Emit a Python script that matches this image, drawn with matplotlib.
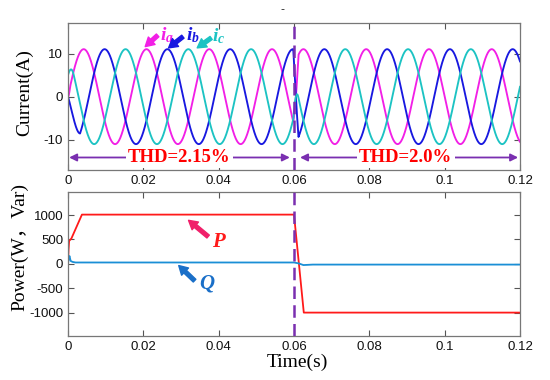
import numpy as np
import matplotlib
matplotlib.use("Agg")
import matplotlib.pyplot as plt
from matplotlib.ticker import FixedLocator, FixedFormatter

plt.rcParams['axes.unicode_minus'] = False
plt.rcParams['mathtext.fontset'] = 'custom'
plt.rcParams['mathtext.it'] = 'Liberation Serif:italic:bold'
plt.rcParams['mathtext.rm'] = 'Liberation Serif:bold'

# ---------------- data ----------------
# three-phase currents (sinusoids): amplitude (A), frequency (Hz), phase (deg)
phase_names = ['a', 'b', 'c']
phase_amp = [11.0, 11.0, 11.0]
phase_freq = 60.0
phase_deg = [0.0, -120.0, 120.0]
# start-up: value at t=0 and time until the wave is settled
start_val = [0.0, 0.0, 5.0]
start_dur = [0.0005, 0.0032, 0.0015]
# power reversal: current sign flips between these times
flip_start = 0.0598
flip_end = 0.0612

# active power P and reactive power Q (breakpoints)
p_time = [0.0, 0.00015, 0.0003, 0.0009, 0.0037, 0.0600, 0.0626, 0.12]
p_val = [0, 300, 470, 520, 1010, 1010, -1000, -1000]
q_time = [0.0, 0.0002, 0.0004, 0.0007, 0.0012, 0.002, 0.060, 0.0612, 0.0625, 0.065, 0.12]
q_val = [0, 120, 160, 60, 40, 28, 28, 10, -25, -15, -15]

x_ticks = [0, 0.02, 0.04, 0.06, 0.08, 0.1, 0.12]
x_tick_labels = ['0', '0.02', '0.04', '0.06', '0.08', '0.1', '0.12']
i_ticks = [-10, 0, 10]
i_tick_labels = ['-10', '0', '10']
p_ticks = [-1000, -500, 0, 500, 1000]
p_tick_labels = ['-1000', '-500', '0', '500', '1000']

thd_labels = ['THD=2.15%', 'THD=2.0%']
event_time = 0.06

# ---------------- styling ----------------
W, H = 550, 380
fig = plt.figure(figsize=(W / 100, H / 100), dpi=100)

def box(x0, y0, x1, y1):
    return [x0 / W, 1 - y1 / H, (x1 - x0) / W, (y1 - y0) / H]

ax1 = fig.add_axes(box(68, 23.3, 520, 170))
ax2 = fig.add_axes(box(68, 191.7, 520, 336))

cur_colors = ['#F21FE6', '#1818E0', '#1CC3C3']
purple = '#7A2FB0'

t = np.linspace(0, 0.12, 4801)
w = 2 * np.pi * phase_freq
blend = np.clip((t - flip_start) / (flip_end - flip_start), 0, 1)
for k in range(3):
    ideal = phase_amp[k] * np.sin(w * t + np.deg2rad(phase_deg[k]))
    s = np.clip(t / start_dur[k], 0, 1)
    y = (1 - s) * start_val[k] + s * ideal
    y = (1 - blend) * y - blend * ideal
    ax1.plot(t, y, color=cur_colors[k], lw=1.35)

ax2.plot(p_time, p_val, color='#FF1A1A', lw=1.3)
ax2.plot(q_time, q_val, color='#1A8FD6', lw=1.3)

ax1.set_ylim(-17, 17)
ax1.yaxis.set_major_locator(FixedLocator(i_ticks))
ax1.yaxis.set_major_formatter(FixedFormatter(i_tick_labels))
ax2.set_ylim(-1480, 1480)
ax2.yaxis.set_major_locator(FixedLocator(p_ticks))
ax2.yaxis.set_major_formatter(FixedFormatter(p_tick_labels))

for ax in (ax1, ax2):
    ax.axvline(event_time, color=purple, lw=1.8, ls=(0, (5, 2.5)), zorder=5)
    ax.set_xlim(0, 0.12)
    ax.xaxis.set_major_locator(FixedLocator(x_ticks))
    ax.xaxis.set_major_formatter(FixedFormatter(x_tick_labels))
    ax.tick_params(direction='in', top=True, right=True, length=4, width=0.8,
                   color='#555555', labelcolor='#111111', pad=3.5)
    for lab in ax.get_xticklabels() + ax.get_yticklabels():
        lab.set_fontfamily('Liberation Sans')
        lab.set_fontsize(9.5)
    for sp in ax.spines.values():
        sp.set_color('#777777')
        sp.set_linewidth(0.9)

# THD arrows and labels
arr = dict(arrowstyle='<|-|>', color=purple, lw=1.3, mutation_scale=11,
           shrinkA=0, shrinkB=0)
ax1.annotate('', xy=(0.0003, -14.1), xytext=(0.0589, -14.1), arrowprops=arr)
ax1.annotate('', xy=(0.0616, -14.1), xytext=(0.1195, -14.1), arrowprops=arr)
thd_font = dict(family='Liberation Serif', weight='bold', size=13.5, color='#FF0000')
ax1.text(0.0296, -14.1, thd_labels[0], ha='center', va='center',
         bbox=dict(facecolor='white', edgecolor='none', pad=1.5), zorder=6, **thd_font)
ax1.text(0.0897, -14.1, thd_labels[1], ha='center', va='center',
         bbox=dict(facecolor='white', edgecolor='none', pad=1.5), zorder=6, **thd_font)

# phase labels with arrows
small_arrow = 'simple,head_width=0.8,head_length=0.7,tail_width=0.3'
lab_pos = [(0.0243, 14.2), (0.0312, 14.2), (0.0383, 14.0)]
arr_tail = [(0.0238, 14.2), (0.0305, 13.9), (0.0380, 13.6)]
arr_tip = [(0.0205, 11.6), (0.0267, 11.3), (0.0343, 11.3)]
for k in range(3):
    ax1.annotate('', xy=arr_tip[k], xytext=arr_tail[k],
                 arrowprops=dict(arrowstyle=small_arrow, color=cur_colors[k],
                                 shrinkA=0, shrinkB=0, mutation_scale=9))
    ax1.text(lab_pos[k][0], lab_pos[k][1], r'$i_{%s}$' % phase_names[k], color=cur_colors[k],
             ha='left', va='center', fontsize=14)

# P and Q labels
ax2.annotate('', xy=(0.0320, 893), xytext=(0.0372, 560),
             arrowprops=dict(arrowstyle=small_arrow, color='#F0206A',
                             shrinkA=0, shrinkB=0, mutation_scale=9))
ax2.text(0.0400, 445, 'P', color='#FF1A1A', ha='center', va='center',
         family='Liberation Serif', style='italic', weight='bold', fontsize=15)
ax2.annotate('', xy=(0.0294, -35), xytext=(0.0336, -345),
             arrowprops=dict(arrowstyle=small_arrow, color='#1A6FC8',
                             shrinkA=0, shrinkB=0, mutation_scale=9))
ax2.text(0.0369, -405, 'Q', color='#1A6FC8', ha='center', va='center',
         family='Liberation Serif', style='italic', weight='bold', fontsize=15)

# axis labels
serif = ['Liberation Serif', 'Noto Sans CJK SC']
fig.text(25 / W, 1 - 93 / H, 'Current(A)', rotation=90, ha='center', va='center',
         family=serif, fontsize=14)
fig.text(20 / W, 1 - 247 / H, 'Power(W，Var)', rotation=90, ha='center', va='center',
         family=serif, fontsize=14)
fig.text(297 / W, 1 - 362 / H, 'Time(s)', ha='center', va='center',
         family=serif, fontsize=14)
fig.text(282 / W, 1 - 9 / H, '-', ha='center', va='center', fontsize=8, color='#222222')

fig.savefig('out.png', dpi=100, facecolor='white')
